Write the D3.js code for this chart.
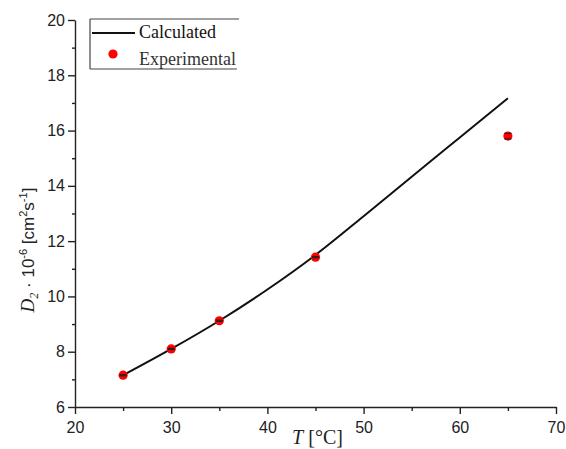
<!DOCTYPE html>
<html>
<head>
<meta charset="utf-8">
<script src="https://cdn.jsdelivr.net/npm/d3@7"></script>
<style>
  html, body { margin: 0; padding: 0; background: #fff; }
  svg { display: block; }
</style>
</head>
<body>
<svg id="chart" width="566" height="449"></svg>
<script>
// ---- data ----
const calcT = [25, 30, 35, 40, 45, 50, 55, 60, 65];
const calcD = [7.15, 8.1, 9.12, 10.25, 11.5, 12.9, 14.33, 15.75, 17.17];
const expT = [25, 30, 35, 45, 65];
const expD = [7.15, 8.1, 9.12, 11.42, 15.8];
const expErr = [0.02, 0.02, 0.02, 0.02, 0.1];
const xTicks = [20, 30, 40, 50, 60, 70];
const xMinor = [25, 35, 45, 55, 65];
const yTicks = [6, 8, 10, 12, 14, 16, 18, 20];
const yMinor = [7, 9, 11, 13, 15, 17, 19];
const legendLabels = ["Calculated", "Experimental"];

const svg = d3.select("#chart");
const margin = { left: 75, right: 10, top: 20, bottom: 42 };
const W = 566, H = 449;

const x = d3.scaleLinear().domain([20, 70]).range([margin.left, W - margin.right]);
const y = d3.scaleLinear().domain([6, 20]).range([H - margin.bottom, margin.top]);

const axisColor = "#222";
const sans = "'Liberation Sans', Arial, sans-serif";
const serif = "'Liberation Serif', 'Times New Roman', serif";

// ---- axes ----
svg.append("g")
  .attr("transform", `translate(0,${y(6)})`)
  .call(d3.axisBottom(x).tickValues(xTicks).tickSize(7).tickSizeOuter(0).tickPadding(8).tickFormat(d3.format("d")));
const xAxisMinor = svg.append("g")
  .attr("transform", `translate(0,${y(6)})`)
  .call(d3.axisBottom(x).tickValues(xMinor).tickSize(4).tickSizeOuter(0).tickFormat(""));
xAxisMinor.select(".domain").remove();

svg.append("g")
  .attr("transform", `translate(${x(20)},0)`)
  .call(d3.axisLeft(y).tickValues(yTicks).tickSize(7).tickSizeOuter(0).tickPadding(3).tickFormat(d3.format("d")));
const yAxisMinor = svg.append("g")
  .attr("transform", `translate(${x(20)},0)`)
  .call(d3.axisLeft(y).tickValues(yMinor).tickSize(3).tickSizeOuter(0).tickFormat(""));
yAxisMinor.select(".domain").remove();

svg.selectAll(".domain").attr("stroke", axisColor).attr("stroke-width", 1.4);
svg.selectAll(".tick line").attr("stroke", axisColor).attr("stroke-width", 1.4);
svg.selectAll(".tick text")
  .attr("fill", "#222")
  .style("font-family", sans)
  .style("font-size", "16px");

// ---- calculated line ----
const line = d3.line()
  .x((d, i) => x(calcT[i]))
  .y(d => y(d))
  .curve(d3.curveMonotoneX);
svg.append("path")
  .datum(calcD)
  .attr("d", line)
  .attr("fill", "none")
  .attr("stroke", "#111")
  .attr("stroke-width", 2);

// ---- experimental points ----
svg.append("g").selectAll("circle")
  .data(expD)
  .join("circle")
  .attr("cx", (d, i) => x(expT[i]))
  .attr("cy", d => y(d))
  .attr("r", 4.6)
  .attr("fill", "#f00");

// small error bars
const eb = svg.append("g").attr("stroke", "#222").attr("stroke-width", 1.2);
expD.forEach((d, i) => {
  const cx = x(expT[i]);
  [d - expErr[i], d + expErr[i]].forEach(v => {
    eb.append("line")
      .attr("x1", cx - 3.5).attr("x2", cx + 3.5)
      .attr("y1", y(v)).attr("y2", y(v));
  });
});

// ---- legend ----
const lg = svg.append("g");
const lx = 90, ly = 19, lw = 149, lh = 50;
lg.append("line").attr("x1", lx).attr("x2", lx + lw).attr("y1", ly).attr("y2", ly)
  .attr("stroke", "#444").attr("stroke-width", 1.2);
lg.append("line").attr("x1", lx).attr("x2", lx + lw - 2).attr("y1", ly + lh).attr("y2", ly + lh)
  .attr("stroke", "#444").attr("stroke-width", 1.2);
lg.append("line").attr("x1", lx).attr("x2", lx).attr("y1", ly).attr("y2", ly + lh)
  .attr("stroke", "#444").attr("stroke-width", 1.2);

lg.append("line").attr("x1", lx + 2).attr("x2", lx + 45).attr("y1", ly + 14).attr("y2", ly + 14)
  .attr("stroke", "#111").attr("stroke-width", 2);
lg.append("circle").attr("cx", lx + 23).attr("cy", ly + 35).attr("r", 4.6).attr("fill", "#f00");

lg.selectAll("text.leg")
  .data(legendLabels)
  .join("text")
  .attr("class", "leg")
  .attr("x", lx + 49)
  .attr("y", (d, i) => ly + 19 + i * 27)
  .attr("fill", (d, i) => i === 0 ? "#111" : "#333")
  .style("font-family", serif)
  .style("font-size", "18px")
  .text(d => d);

// ---- axis titles ----
const xt = svg.append("text")
  .attr("x", (x(20) + x(70)) / 2 + 2)
  .attr("y", 444)
  .attr("text-anchor", "middle")
  .attr("fill", "#222")
  .style("font-family", serif)
  .style("font-size", "20px");
xt.append("tspan").style("font-style", "italic").text("T");
xt.append("tspan").text(" [°C]");

const yt = svg.append("text")
  .attr("transform", `translate(34,250) rotate(-90)`)
  .attr("text-anchor", "middle")
  .attr("fill", "#222")
  .style("font-family", sans)
  .style("font-size", "17px");
yt.append("tspan").style("font-family", serif).style("font-style", "italic").style("font-size", "19px").text("D");
yt.append("tspan").style("font-family", serif).style("font-style", "italic").style("font-size", "12px").attr("dy", 4).text("2");
yt.append("tspan").attr("dy", -4).text(" · 10");
yt.append("tspan").style("font-size", "11px").attr("dy", -7).text("-6");
yt.append("tspan").attr("dy", 7).text(" [cm");
yt.append("tspan").style("font-size", "11px").attr("dy", -7).text("2");
yt.append("tspan").attr("dy", 7).text("s");
yt.append("tspan").style("font-size", "11px").attr("dy", -7).text("-1");
yt.append("tspan").attr("dy", 7).text("]");
</script>
</body>
</html>
